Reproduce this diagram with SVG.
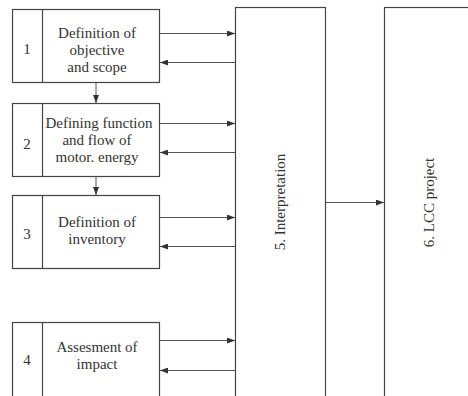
<svg xmlns="http://www.w3.org/2000/svg" width="468" height="396" viewBox="0 0 468 396">
<defs>
<style>
.box{fill:#fff;stroke:#444;stroke-width:1.2}
.ln{stroke:#555;stroke-width:1;fill:none;marker-end:url(#ah)}
.t{font-family:'Liberation Serif','DejaVu Serif',serif;font-size:15px;fill:#333}
.c{text-anchor:middle}
</style>
<marker id="ah" viewBox="0 0 8 6" refX="8" refY="3" markerWidth="8" markerHeight="6" markerUnits="userSpaceOnUse" orient="auto">
<path d="M0,0 L8,3 L0,6 z" fill="#333"/>
</marker>
</defs>
<rect width="468" height="396" fill="#fff"/>
<g id="node1">
<rect class="box" x="12.5" y="9.5" width="147" height="73"/>
<line x1="42.5" y1="9.5" x2="42.5" y2="82.5" stroke="#444" stroke-width="1.2"/>
<text class="t c" x="27" y="54">1</text>
<text class="t c" x="97" y="37.5">Definition of</text>
<text class="t c" x="97" y="54.5">objective</text>
<text class="t c" x="97" y="71.5">and scope</text>
</g>
<g id="node2">
<rect class="box" x="12.5" y="103.5" width="147" height="73"/>
<line x1="42.5" y1="103.5" x2="42.5" y2="176.5" stroke="#444" stroke-width="1.2"/>
<text class="t c" x="27" y="149">2</text>
<text class="t c" x="99" y="127.5">Defining function</text>
<text class="t c" x="97" y="144.5">and flow of</text>
<text class="t c" x="97" y="161.5">motor. energy</text>
</g>
<g id="node3">
<rect class="box" x="12.5" y="195.5" width="147" height="73"/>
<line x1="42.5" y1="195.5" x2="42.5" y2="268.5" stroke="#444" stroke-width="1.2"/>
<text class="t c" x="27" y="239">3</text>
<text class="t c" x="97" y="227">Definition of</text>
<text class="t c" x="97" y="243.5">inventory</text>
</g>
<g id="node4">
<rect class="box" x="12.5" y="322.5" width="147" height="80"/>
<line x1="42.5" y1="322.5" x2="42.5" y2="402" stroke="#444" stroke-width="1.2"/>
<text class="t c" x="27" y="365">4</text>
<text class="t c" x="97" y="351.5">Assesment of</text>
<text class="t c" x="97" y="369">impact</text>
</g>
<g id="node5">
<rect class="box" x="235.5" y="7.5" width="90" height="400"/>
<text class="t c" transform="translate(285,202) rotate(-90)">5. Interpretation</text>
</g>
<g id="node6">
<rect class="box" x="384.5" y="7.5" width="100" height="400"/>
<text class="t c" transform="translate(434,202.5) rotate(-90)">6. LCC project</text>
</g>
<g id="connectors">
<line class="ln" x1="96" y1="83" x2="96" y2="103"/>
<line class="ln" x1="96" y1="177" x2="96" y2="195"/>
<line class="ln" x1="160" y1="33.5" x2="235" y2="33.5"/>
<line class="ln" x1="235" y1="62.5" x2="160" y2="62.5"/>
<line class="ln" x1="160" y1="123.5" x2="235" y2="123.5"/>
<line class="ln" x1="235" y1="152.5" x2="160" y2="152.5"/>
<line class="ln" x1="160" y1="217.5" x2="235" y2="217.5"/>
<line class="ln" x1="235" y1="246.5" x2="160" y2="246.5"/>
<line class="ln" x1="160" y1="340.5" x2="235" y2="340.5"/>
<line class="ln" x1="235" y1="370.5" x2="160" y2="370.5"/>
<line class="ln" x1="326" y1="202.5" x2="384" y2="202.5"/>
</g>
</svg>
